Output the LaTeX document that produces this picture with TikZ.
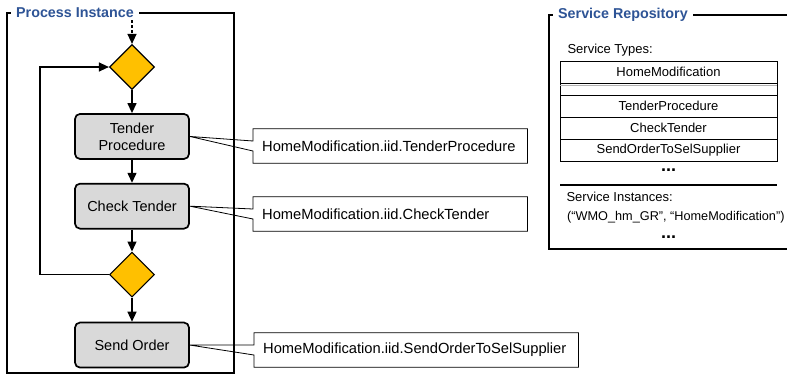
\documentclass[tikz,border=0pt]{standalone}
\usepackage{fontspec}
\setmainfont{Liberation Sans}
\usetikzlibrary{calc,positioning,arrows.meta,shapes.geometric}
\definecolor{titleblue}{RGB}{46,84,150}
\definecolor{gateorange}{RGB}{255,192,0}
\definecolor{taskgray}{RGB}{217,217,217}

\begin{document}
\begin{tikzpicture}[x=1pt, y=-1pt,
    every node/.style={font=\fontsize{14.5}{17}\selectfont},
    task/.style={draw, line width=1.7pt, rounded corners=5pt, fill=taskgray, minimum width=114pt, minimum height=45pt, align=center, inner sep=0pt},
    gate/.style={draw, diamond, line width=1.2pt, fill=gateorange, minimum width=45pt, minimum height=45pt, inner sep=0pt},
    flow/.style={line width=1.3pt, -{Triangle[length=10pt, width=9pt]}},
    callout/.style={minimum height=34pt, inner xsep=9pt, anchor=west, text width=#1, align=left, font=\fontsize{14.7}{17}\selectfont},
    wedge/.style={line width=0.8pt},
    frame/.style={draw, line width=2.8pt},
    frametitle/.style={fill=white, text=titleblue, font=\bfseries\fontsize{14.3}{17}\selectfont, inner xsep=5pt, inner ysep=1pt, anchor=west},
    repo/.style={font=\fontsize{13}{15}\selectfont},
    typerow/.style={draw, line width=0.8pt, outer sep=0pt, minimum width=217pt, minimum height=22pt, inner sep=0pt, repo},
    more/.style={font=\bfseries\fontsize{18}{18}\selectfont, inner sep=0pt}]

        \useasboundingbox (0,0) rectangle (787,376);
        \clip (0,0) rectangle (787,376);

        % process instance
        \draw[frame] (7,13) rectangle (234,373);
        \node[frametitle] (proctitle) at (11,13) {Process Instance};

        \node[gate] (gate1) at (132,67) {};
        \node[task, below=23pt of gate1] (tender) {Tender\\Procedure};
        \node[task, below=23pt of tender] (check) {Check Tender};
        \node[gate, below=22pt of check] (gate2) {};
        \node[task, below=24pt of gate2] (send) {Send Order};

        \coordinate (entry) at (132,20);
        \draw[flow, dash pattern=on 3pt off 2pt] (entry) -- (gate1);
        \draw[flow] (gate1) -- (tender);
        \draw[flow] (tender) -- (check);
        \draw[flow] (check) -- (gate2);
        \draw[flow] (gate2) -- (send);
        \draw[flow] (gate2.west) -- ++(-69,0) |- (gate1.west);

        \node[callout=256pt] (tendernote) at (253,146) {HomeModification.iid.TenderProcedure};
        \node[callout=256pt] (checknote) at (253,214) {HomeModification.iid.CheckTender};
        \node[callout=306pt] (sendnote) at (254,350) {HomeModification.iid.SendOrderToSelSupplier};

        \foreach \task/\note in {tender/tendernote, check/checknote, send/sendnote}
            \draw[wedge] (\note.north west) -- ($(\note.west)+(0,-5)$) -- (\task.east) --
                ($(\note.west)+(0,5)$) -- (\note.south west) -- (\note.south east) --
                (\note.north east) -- cycle;

        % service repository
        \draw[frame] (549,15) rectangle (800,249);
        \node[frametitle] (repotitle) at (553,15) {Service Repository};

        \node[repo, anchor=west] (typeslabel) at (564,50) {Service Types:};
        \node[typerow] (hmrow) at (668.5,72) {HomeModification};
        \node[typerow, minimum height=12pt, below=0pt of hmrow] (blankrow) {};
        \draw[gray!60, line width=0.8pt] ($(blankrow.north west)+(0,2)$) -- ($(blankrow.north east)+(0,2)$);
        \node[typerow, below=0pt of blankrow] (tenderrow) {TenderProcedure};
        \node[typerow, below=0pt of tenderrow] (checkrow) {CheckTender};
        \node[typerow, below=0pt of checkrow] (sendrow) {SendOrderToSelSupplier};
        \node[more] (typedots) at (668.5,170) {...};

        \draw[line width=1.4pt] (560,185) -- (777,185);

        \node[repo, anchor=west] (instlabel) at (563,197) {Service Instances:};
        \node[repo, anchor=west, inner sep=1pt, font=\fontsize{12.7}{15}\selectfont] (instrow) at (566,217) {(“WMO\_hm\_GR”, “HomeModification”)};
        \node[more] (instdots) at (668.5,237) {...};

    \end{tikzpicture}
\end{document}
